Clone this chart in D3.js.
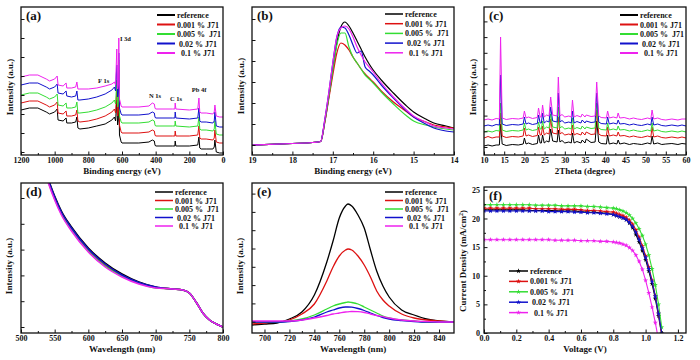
<!DOCTYPE html>
<html>
<head>
<meta charset="utf-8">
<script src="https://d3js.org/d3.v7.min.js"></script>
<style>
  body { margin: 0; background: #fff; }
  text { font-family: 'Liberation Serif', 'Times New Roman', serif; font-weight: bold; fill: #111; }
  .tick text { font-size: 8px; }
  .axis-label { font-size: 9px; }
  .legend text { font-size: 8px; white-space: pre; }
  .panel-label { font-size: 13px; }
  .peak-label { font-size: 6.5px; }
</style>
</head>
<body>
<svg id="fig" width="700" height="360"></svg>
<script>
// ---- series names / colours
const seriesNames = ['reference', '0.001 % J71', '0.005 %  J71', ' 0.02 % J71', '  0.1 % J71'];
const colors = ['#000000', '#dd1111', '#33dd33', '#1111cc', '#ee22ee'];

// ---- (a) XPS survey
const surveyEnergy = [1200,1150,1100,1050,1030,1000,985,980,950,932,928,900,875,868,862,850,800,750,700,660,645,638,631,626,622,619,615,605,600,500,440,420,408,404,400,380,300,286,284,280,200,150,143,138,130,100,60,52,48,40,20,0];
const surveyRef  = [45,47,47,43,41,43,46,35,34,37,32,32,33,38,27,26,27,29,31,35,38,34,55,30,35,75,20,13,12,12,13,15,14,10,9,9,9,9,14,9,9,10,18,7,6,6,6,8,15,3,2,2];
const survey0001 = [52,54,54,50,48,50,53,42,41,44,39,39,40,45,34,33,34,36,39,43,46,42,65,39,44,85,30,23,22,22,23,25,24,20,19,19,19,19,24,19,19,20,29,17,16,16,15,17,25,13,12,12];
const survey0005 = [60,62,62,58,56,58,61,50,49,52,47,47,48,53,42,42,43,45,48,52,55,51,75,48,53,95,39,33,32,32,33,35,34,30,29,29,29,29,34,29,28,29,38,26,25,25,24,26,34,21,20,20];
const survey002  = [70,72,72,68,66,68,71,62,61,64,59,58,59,64,55,55,56,58,61,65,68,64,90,58,63,102,47,41,40,40,41,43,42,38,37,37,37,37,43,37,36,37,47,34,33,33,32,34,43,29,28,28];
const survey01   = [78,80,80,76,74,76,79,70,69,72,67,67,68,73,66,66,66,67,69,71,73,70,106,66,70,117,56,49,48,48,49,52,51,47,46,46,46,46,52,46,45,46,57,43,42,42,41,43,50,39,38,38];
const surveyTicks = [1200,1000,800,600,400,200,0];
const surveyPeaks = ['I 3d', 'F 1s', 'N 1s', 'C 1s', 'Pb 4f'];

// ---- (b) UPS cut-off
const upsEnergy = [19,18,17.5,17.3,17.2,17.1,17.0,16.9,16.8,16.7,16.6,16.5,16.4,16.3,16.2,16.1,16.0,15.8,15.5,15.2,15.0,14.7,14.5,14.2,14.0];
const upsRef  = [10,11.5,12.5,13.5,33,58,85,112,128,133,129,122,114,106,98,91,85,75,62,50,43,36,32,29,27];
const ups0001 = [10,11.5,12.5,13.5,32,56,80,102,112,110,105,98,92,86,81,77,73,64,53,44,38,33,30,28,27];
const ups0005 = [10,11.5,12.5,13.5,33,58,85,110,122,122,108,98,92,86,80,76,72,63,51,40,34,30,28,26,25];
const ups002  = [10,11.5,12.5,13.5,35,62,92,118,128,127,120,110,102,104,88,84,80,70,57,45,38,31,27,24,23];
const ups01   = [10,11.5,12.5,13.5,35,62,92,118,127,129,126,118,108,100,93,88,83,72,58,46,39,33,29,27,26];
const upsTicks = [19,18,17,16,15,14];

// ---- (c) XRD
const xrdTheta = [10,11,12,13,13.8,14.1,14.5,15.5,17,18.5,19.7,20.0,20.4,21,22,23.2,23.5,23.9,24.2,24.5,24.9,25.5,26.1,26.5,27,28.1,28.4,28.8,29.3,30,31,31.6,31.9,32.3,33,34,34.3,35,35.3,36.5,37.5,37.9,38.4,39,40.3,40.6,41,42,42.9,43.2,43.6,44.7,46,47,48,49,50.5,51.3,51.6,52,53,54,55,56.5,58,59,60];
const xrdRef  = [9,10,9,10,10,31,11,9.5,10.5,10,11,17,11,12,10.5,11.5,20,12,12,20,12,14,13,26,14,13,25,13,14.5,12,13,12,22,12,13.5,12,15,12,16,12.5,13,34,13,11.5,11,20,11,12,11,15,11,12,10.5,11.5,11,10.5,12,11,19,11,12,10.5,11,11.5,10.5,11.5,11];
const xrd0001 = [17,18.5,17,18,18,42,19,17.5,18.5,18,19,27,19,20,18.5,19.5,28,20,20,29,20,22,21,36,22,21,38,21,22.5,20,21,20,30,20,21.5,20,23,20,23,20.5,21,45,21,19.5,19,28,19,20,19,23,19,19.5,18,19,18,17.5,19,18,28,18,19,17.5,17,18,17,18,17];
const xrd0005 = [23,24,23,24.5,24,52,25,23.5,24.5,24,25,32,25,26,24.5,25.5,33,26,26,34,26,28,27,41,28,27,48,27,28.5,26,27,26,37,26,27.5,26,29,26,28,26.5,27,52,27,25.5,25,32,25,26,25,29,25,25.5,24,25,24,23.5,25,24,32,24,25,23.5,23,24,23,24,23];
const xrd002  = [29,30,29,30.5,30,80,31,29.5,30.5,30,31,38,31,32,30.5,31.5,40,32,32,42,32,34,33,48,34,33,62,33,34.5,32,33,32,44,32,33.5,32,35,32,34,32.5,33,62,33,31.5,31,38,31,32,31,35,31,31.5,30,31,30,29.5,31,30,38,30,31,29.5,29,30,29,30,29];
const xrd01   = [35,36,35,36.5,36,118,37,35.5,36.5,36,37,44,37,38,36.5,37.5,47,38,38,50,38,40,39,58,40,39,78,39,40.5,38,39,38,55,38,39.5,38,41,38,40,38.5,39,73,39,37.5,37,44,37,38,37,42,37,37.5,36,37,36,35.5,37,36,45,36,37,35.5,35,36,35,36,36];
const xrdTicks = [10,15,20,25,30,35,40,45,50,55,60];

// ---- (d) absorption
const absWave = [500,520,530,540,550,560,575,600,625,650,675,700,725,740,750,760,770,780,790,800];
const absRef  = [250,200,176,155,137,122,106,85,70,59,51,46,44,43,40,31,20,13,9,6];
const abs0001 = [248,198,174,153,135,120,104,83,68,57.5,50,45.5,44,43,40,31,20,13,9,6];
const abs0005 = [247,197,173,152,134,119,103,82,67,57,50,45,44,43,40,31,20,13,9,6];
const abs002  = [249,199,175,154,136,121,105,84,69,58,50.5,46,44,43,40,31,20,13,9,6];
const abs01   = [246,196,172,151,133,118,102,81,66,56,49,45,44,43,40,31,20,13,9,6];
const absTicks = [500,550,600,650,700,750,800];

// ---- (e) PL
const plWave = [690,700,710,720,730,740,750,755,760,765,767,770,775,780,785,790,795,800,810,820,830,840,852];
const plRef  = [8,9,10,14,21,38,71,92,115,127,129,127,118,105,83,62,47,36,23,18,14,12,11];
const pl0001 = [9,10,11,13,19,29,52,66,77,83,84,83,77,68,56,42,33,27,19,15,13,12,11];
const pl0005 = [11,11,11,12,14,18,24,27,29,30.5,31,30.5,29,26,23,20,17,15,13,12,11,11,11];
const pl002  = [11,11,11,11.5,13,16,21,23,25,26,26,25.8,24.5,22.5,20,17.5,15.5,14,12.5,11.5,11,11,11];
const pl01   = [12,12,12,12,13,15,17.5,19,20,21,21.2,21.5,21.3,20.5,19,17.5,16.3,15,13,12,11.5,11,11];
const plTicks = [700,720,740,760,780,800,820,840];

// ---- (f) J-V
const jvVoltage = [0,0.04,0.08,0.12,0.16,0.2,0.24,0.28,0.32,0.36,0.4,0.44,0.48,0.52,0.56,0.6,0.64,0.68,0.72,0.76,0.8,0.82,0.84,0.86,0.88,0.9,0.92,0.94,0.96,0.98,1.0,1.02,1.04,1.06,1.08,1.1];
const jvRef  = [21.5,21.5,21.5,21.5,21.5,21.5,21.5,21.4,21.4,21.4,21.4,21.4,21.3,21.3,21.3,21.2,21.1,21.1,21.0,20.9,20.7,20.5,20.3,20.1,19.8,19.2,18.4,17.2,15.9,14.4,12.8,10.8,8.6,6.0,3.0,-0.4];
const jv0001 = [21.8,21.8,21.8,21.8,21.8,21.8,21.8,21.8,21.7,21.7,21.7,21.7,21.6,21.6,21.6,21.5,21.4,21.4,21.3,21.2,21.1,20.9,20.7,20.5,20.2,19.7,19.0,18.0,16.7,15.2,13.5,11.5,9.2,6.5,3.4,-0.2];
const jv0005 = [22.4,22.4,22.4,22.4,22.4,22.4,22.4,22.4,22.3,22.3,22.3,22.3,22.2,22.2,22.2,22.2,22.1,22.1,22.0,21.9,21.8,21.7,21.5,21.3,21.0,20.6,20.0,19.2,18.2,17.0,15.5,13.6,11.2,8.4,5.0,1.0];
const jv002  = [21.3,21.3,21.3,21.3,21.3,21.3,21.3,21.3,21.3,21.3,21.2,21.2,21.2,21.2,21.1,21.1,21.0,21.0,20.9,20.8,20.7,20.5,20.3,20.1,19.8,19.3,18.6,17.6,16.3,14.8,13.2,11.2,9.0,6.4,3.4,0];
const jv01   = [16.3,16.3,16.3,16.3,16.3,16.3,16.3,16.3,16.3,16.3,16.3,16.2,16.2,16.2,16.2,16.1,16.1,16.1,16.0,16.0,15.9,15.8,15.7,15.5,15.3,14.9,14.4,13.6,12.5,11.1,9.2,7.0,4.5,1.8,-1.2,null];
const jvVTicks = [0,0.2,0.4,0.6,0.8,1.0,1.2];
const jvJTicks = [0,5,10,15,20,25];

const svg = d3.select('#fig');

const panels = [
  { id: 'a', label: '(a)', left: 21, right: 223, top: 7, bottom: 155,
    xDomain: [1200, 0], yDomain: [0, 148], xs: surveyEnergy,
    series: [surveyRef, survey0001, survey0005, survey002, survey01],
    xTicks: surveyTicks, xFormat: d3.format('d'), yTickStep: [3, 19],
    xTitle: 'Binding energy (eV)', xTitleY: 174, yTitleX: 13, yTitleY: 87,
    legend: { x1: 157, x2: 175, y0: 15, dy: 9.5, lw: 2 }, lw: 1 },
  { id: 'b', label: '(b)', left: 252, right: 454, top: 7, bottom: 155,
    xDomain: [19, 14], yDomain: [0, 148], xs: upsEnergy,
    series: [upsRef, ups0001, ups0005, ups002, ups01], curve: d3.curveMonotoneX,
    xTicks: upsTicks, xFormat: d3.format('d'), yTickStep: [10, 21],
    xTitle: 'Binding energy (eV)', xTitleY: 174, yTitleX: 244, yTitleY: 86,
    legend: { x1: 385, x2: 403, y0: 14, dy: 9.7, lw: 1.5 }, lw: 1.2 },
  { id: 'c', label: '(c)', left: 484, right: 686, top: 7, bottom: 155,
    xDomain: [10, 60], yDomain: [0, 148], xs: xrdTheta,
    series: [xrdRef, xrd0001, xrd0005, xrd002, xrd01],
    xTicks: xrdTicks, xFormat: d3.format('d'), yTickStep: [8, 15.7],
    xTitle: '2Theta (degree)', xTitleY: 174, yTitleX: 476, yTitleY: 87,
    legend: { x1: 620, x2: 638, y0: 15, dy: 9.5, lw: 2 }, lw: 1 },
  { id: 'd', label: '(d)', left: 21, right: 223, top: 183, bottom: 333,
    xDomain: [500, 800], yDomain: [0, 150], xs: absWave,
    series: [absRef, abs0001, abs0005, abs002, abs01], curve: d3.curveMonotoneX,
    xTicks: absTicks, xFormat: d3.format('d'), yTickStep: [6, 25.8],
    xTitle: 'Wavelength (nm)', xTitleY: 352, yTitleX: 12, yTitleY: 266,
    legend: { x1: 155, x2: 173, y0: 192, dy: 8.5, lw: 1.5 }, lw: 1.5 },
  { id: 'e', label: '(e)', left: 252, right: 454, top: 183, bottom: 333,
    xDomain: [690, 852], yDomain: [0, 150], xs: plWave,
    series: [plRef, pl0001, pl0005, pl002, pl01], curve: d3.curveMonotoneX,
    xTicks: plTicks, xFormat: d3.format('d'), yTickStep: [11.3, 18.3],
    xTitle: 'Wavelength (nm)', xTitleY: 352, yTitleX: 243, yTitleY: 266,
    legend: { x1: 385, x2: 403, y0: 192, dy: 8.5, lw: 1.5 }, lw: 1.3 },
  { id: 'f', label: '(f)', left: 484, right: 686, top: 187, bottom: 333,
    xDomain: [0, 1.25], yDomain: [0, 25.5], xs: jvVoltage,
    series: [jvRef, jv0001, jv0005, jv002, jv01], markers: true,
    xTicks: jvVTicks, xFormat: d3.format('.1f'), yTicks: jvJTicks,
    xTitle: 'Voltage (V)', xTitleY: 352, yTitleX: 466, yTitleY: 261,
    legend: { x1: 509, x2: 528, y0: 271, dy: 10.4, lw: 1.5 }, lw: 1.1 }
];

const star = d3.symbol().type(d3.symbolStar).size(8);

panels.forEach(p => {
  const x = d3.scaleLinear().domain(p.xDomain).range([p.left, p.right]);
  const y = d3.scaleLinear().domain(p.yDomain).range([p.bottom, p.top]);
  const g = svg.append('g');

  svg.append('clipPath').attr('id', 'clip-' + p.id)
    .append('rect')
      .attr('x', p.left).attr('y', p.top)
      .attr('width', p.right - p.left).attr('height', p.bottom - p.top);

  const line = d3.line()
    .defined(d => d[1] != null)
    .x(d => x(d[0]))
    .y(d => y(d[1]))
    .curve(p.curve || d3.curveLinear);

  const plot = g.append('g').attr('clip-path', `url(#clip-${p.id})`);
  p.series.forEach((s, i) => {
    const pts = p.xs.map((v, j) => [v, s[j]]);
    plot.append('path').datum(pts)
      .attr('fill', 'none')
      .attr('stroke', colors[i])
      .attr('stroke-width', p.lw)
      .attr('stroke-linejoin', 'round')
      .attr('d', line);
    if (p.markers) {
      plot.selectAll(null).data(pts.filter(d => d[1] != null)).enter()
        .append('path')
          .attr('d', star)
          .attr('transform', d => `translate(${x(d[0])},${y(d[1])})`)
          .attr('fill', colors[i]);
    }
  });

  // bottom axis, major + minor ticks inward
  const minorX = d3.pairs(p.xTicks).map(t => (t[0] + t[1]) / 2);
  const xAxisG = g.append('g').attr('transform', `translate(0,${p.bottom})`)
    .call(d3.axisBottom(x).tickValues(p.xTicks).tickFormat(p.xFormat)
      .tickSizeInner(-3.5).tickSizeOuter(0).tickPadding(2));
  xAxisG.select('.domain').remove();
  g.append('g').attr('transform', `translate(0,${p.bottom})`)
    .call(d3.axisBottom(x).tickValues(minorX).tickFormat('').tickSizeInner(-2).tickSizeOuter(0))
    .select('.domain').remove();

  // left axis
  if (p.yTicks) {
    const minorY = d3.pairs(p.yTicks).map(t => (t[0] + t[1]) / 2);
    g.append('g').attr('transform', `translate(${p.left},0)`)
      .call(d3.axisLeft(y).tickValues(p.yTicks).tickSizeInner(-3.5).tickSizeOuter(0).tickPadding(4))
      .select('.domain').remove();
    g.append('g').attr('transform', `translate(${p.left},0)`)
      .call(d3.axisLeft(y).tickValues(minorY).tickFormat('').tickSizeInner(-2).tickSizeOuter(0))
      .select('.domain').remove();
  } else {
    const yt = d3.range(p.yTickStep[0], p.yDomain[1], p.yTickStep[1]);
    g.append('g').attr('transform', `translate(${p.left},0)`)
      .call(d3.axisLeft(y).tickValues(yt).tickFormat('').tickSizeInner(-3.5).tickSizeOuter(0))
      .select('.domain').remove();
  }
  g.selectAll('.tick line').attr('stroke', '#111').attr('stroke-width', 1);

  // frame
  g.append('rect')
    .attr('x', p.left).attr('y', p.top)
    .attr('width', p.right - p.left).attr('height', p.bottom - p.top)
    .attr('fill', 'none').attr('stroke', '#111').attr('stroke-width', 1.3);

  // titles
  g.append('text').attr('class', 'axis-label')
    .attr('x', (p.left + p.right) / 2).attr('y', p.xTitleY)
    .attr('text-anchor', 'middle')
    .text(p.xTitle);

  const yt = g.append('text').attr('class', 'axis-label')
    .attr('transform', `translate(${p.yTitleX},${p.yTitleY}) rotate(-90)`)
    .attr('text-anchor', 'middle');
  if (p.id === 'f') {
    yt.append('tspan').text('Current Density (mA/cm');
    yt.append('tspan').attr('baseline-shift', 'super').style('font-size', '6px').text('2');
    yt.append('tspan').text(')');
  } else {
    yt.text('Intensity (a.u.)');
  }

  g.append('text').attr('class', 'panel-label')
    .attr('x', p.left + 5).attr('y', p.top + 13)
    .text(p.label);

  // legend
  const lg = g.append('g').attr('class', 'legend');
  seriesNames.forEach((name, i) => {
    const ly = p.legend.y0 + i * p.legend.dy;
    lg.append('line')
      .attr('x1', p.legend.x1).attr('x2', p.legend.x2)
      .attr('y1', ly).attr('y2', ly)
      .attr('stroke', colors[i]).attr('stroke-width', p.legend.lw);
    if (p.markers) {
      lg.append('path').attr('d', star)
        .attr('transform', `translate(${(p.legend.x1 + p.legend.x2) / 2},${ly})`)
        .attr('fill', colors[i]);
    }
    lg.append('text')
      .attr('x', p.legend.x2 + 2).attr('y', ly + 3)
      .attr('xml:space', 'preserve')
      .text(name);
  });

  // peak labels for the survey
  if (p.id === 'a') {
    const peakPos = [[612, 114], [742, 72], [440, 57], [315, 54], [185, 63]];
    surveyPeaks.forEach((t, i) => {
      g.append('text').attr('class', 'peak-label')
        .attr('x', x(peakPos[i][0])).attr('y', y(peakPos[i][1]))
        .text(t);
    });
  }
});
</script>
</body>
</html>
